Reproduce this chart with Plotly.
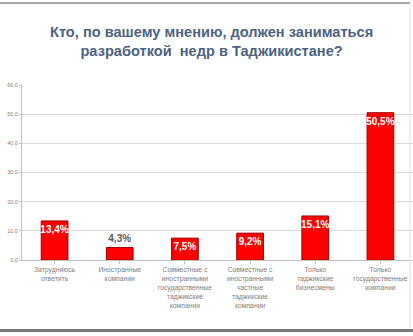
import plotly.graph_objects as go

categories = [
    "Затрудняюсь<br>ответить",
    "Иностранные<br>компании",
    "Совместные с<br>иностранными<br>государственные<br>таджикские<br>компании",
    "Совместные с<br>иностранными<br>частные<br>таджикские<br>компании",
    "Только<br>таджикские<br>бизнесмены",
    "Только<br>государственные<br>компании",
]
values = [13.4, 4.3, 7.5, 9.2, 15.1, 50.5]
label_positions = ["inside", "outside", "inside", "inside", "inside", "inside"]
y_ticks = [0, 10, 20, 30, 40, 50, 60]
y_tick_labels = ["0,0", "10,0", "20,0", "30,0", "40,0", "50,0", "60,0"]
title_text = "Кто, по вашему мнению, должен заниматься<br>разработкой  недр в Таджикистане?"

texts = ["<b>" + f"{v:.1f}".replace(".", ",") + "%</b>" for v in values]

W, H = 413, 336
ML, MR, MT, MB = 22, 0, 85, 76
PW, PH = W - ML - MR, H - MT - MB


def px_x(x):
    return (x - ML) / PW


def px_y(y):
    return (H - MB - y) / PH


fig = go.Figure(go.Bar(
    x=list(range(len(categories))),
    y=values,
    width=0.41,
    marker=dict(color="#ff0000", line=dict(color="#a00000", width=1)),
    text=texts,
    textposition=label_positions,
    insidetextanchor="end",
    constraintext="none",
    insidetextfont=dict(color="white", size=10, family="Liberation Sans"),
    outsidetextfont=dict(color="#595959", size=10, family="Liberation Sans"),
    textangle=0,
    cliponaxis=False,
))

fig.update_layout(
    width=W, height=H,
    margin=dict(l=ML, r=MR, t=MT, b=MB),
    paper_bgcolor="white",
    plot_bgcolor="white",
    showlegend=False,
    annotations=[dict(
        text="<b>" + title_text + "</b>",
        xref="paper", yref="paper", x=px_x(211), y=px_y(41),
        xanchor="center", yanchor="middle",
        showarrow=False,
        font=dict(family="Liberation Sans", size=14.6, color="#4d6383"),
        align="center",
    )],
    shapes=[
        dict(type="line", xref="paper", yref="paper", x0=px_x(0), x1=px_x(410),
             y0=px_y(3), y1=px_y(3), line=dict(color="#8a8a8a", width=1.5)),
        dict(type="line", xref="paper", yref="paper", x0=px_x(0), x1=px_x(413),
             y0=px_y(330.5), y1=px_y(330.5), line=dict(color="#7a7a7a", width=3)),
        dict(type="line", xref="paper", yref="paper", x0=px_x(410), x1=px_x(410),
             y0=px_y(329), y1=px_y(3), line=dict(color="#e0e0e0", width=1)),
    ],
)

fig.update_xaxes(
    range=[-0.5, len(categories) - 0.5],
    tickmode="array",
    tickvals=list(range(len(categories))),
    ticktext=categories,
    tickfont=dict(family="Liberation Sans", size=6.8, color="#808080"),
    showline=True, linecolor="#bfbfbf", linewidth=1,
    ticks="outside", ticklen=3, tickcolor="#bfbfbf",
    tickson="boundaries",
    showgrid=False,
    tickangle=0,
)
fig.update_yaxes(
    range=[0, 60],
    tickmode="array",
    tickvals=y_ticks,
    ticktext=y_tick_labels,
    tickfont=dict(family="Liberation Sans", size=5.5, color="#808080"),
    showline=True, linecolor="#bfbfbf", linewidth=1,
    showgrid=True, gridcolor="#d9d9d9", gridwidth=1,
    ticks="outside", ticklen=2, tickcolor="#bfbfbf",
    zeroline=False,
)

fig.write_html("out.html")
